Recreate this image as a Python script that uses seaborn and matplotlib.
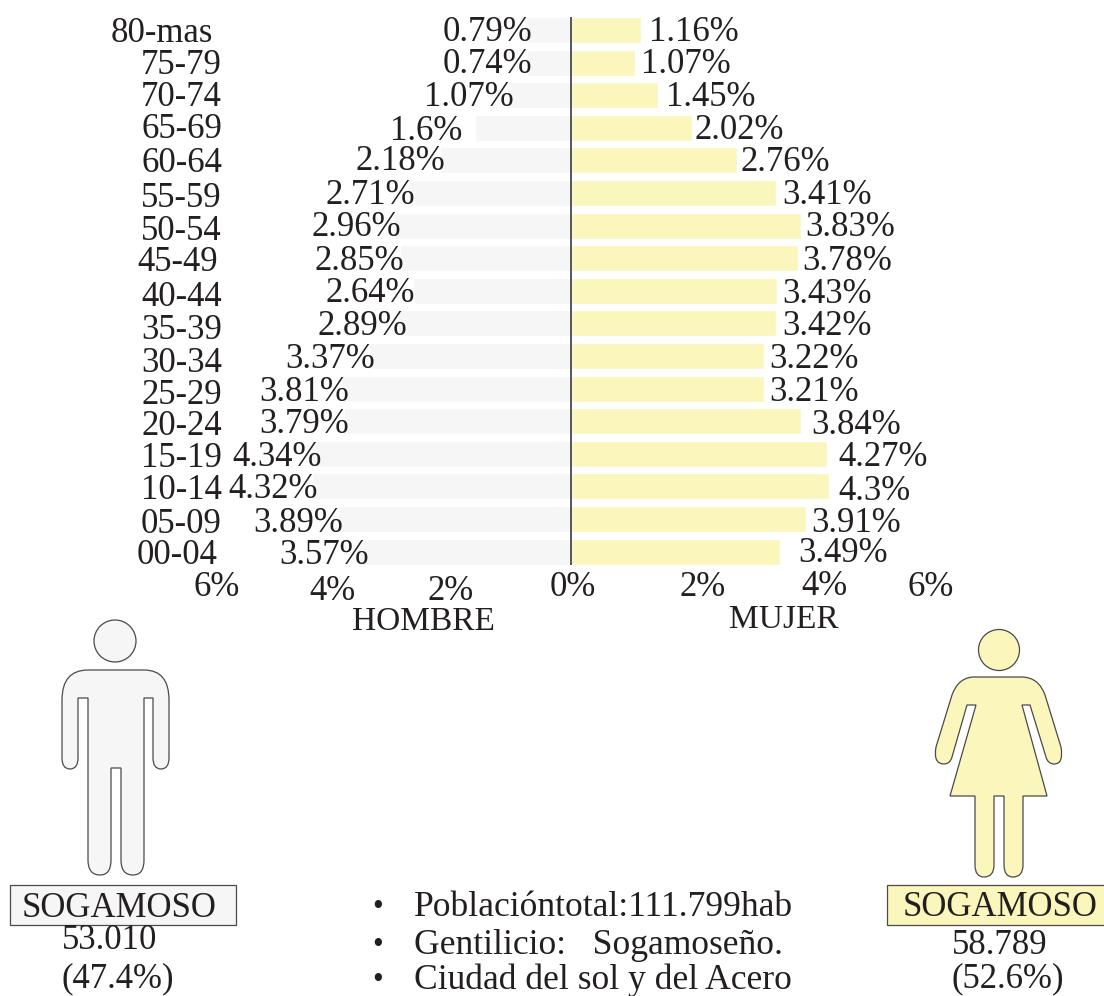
import matplotlib
matplotlib.use('Agg')
import matplotlib.pyplot as plt
from matplotlib.patches import Circle, PathPatch, Rectangle
from matplotlib.path import Path
import pandas as pd
import seaborn as sns

ages = ['80-mas', '75-79', '70-74', '65-69', '60-64', '55-59', '50-54', '45-49', '40-44',
        '35-39', '30-34', '25-29', '20-24', '15-19', '10-14', '05-09', '00-04']
hombre = [0.79, 0.74, 1.07, 1.6, 2.18, 2.71, 2.96, 2.85, 2.64, 2.89, 3.37, 3.81, 3.79, 4.34, 4.32, 3.89, 3.57]
mujer = [1.16, 1.07, 1.45, 2.02, 2.76, 3.41, 3.83, 3.78, 3.43, 3.42, 3.22, 3.21, 3.84, 4.27, 4.3, 3.91, 3.49]

# label positions in image pixels, they were placed by hand in the original
age_right = [213, 222, 222, 222, 222, 222, 222, 218, 222, 222, 222, 222, 222, 222, 222, 222, 218]
age_y = [30, 62, 94, 126, 160, 195, 228, 259, 294, 327, 360, 392, 423, 455, 487, 521, 552]
hombre_right = [532, 532, 514, 462, 445, 415, 401, 404, 415, 407, 375, 349, 349, 322, 318, 343, 369]
hombre_y = [29, 61, 94, 128, 158, 192, 224, 258, 290, 323, 356, 389, 421, 454, 486, 520, 552]
mujer_left = [649, 641, 666, 695, 741, 782, 805, 802, 782, 782, 769, 769, 811, 838, 838, 811, 798]
mujer_y = [29, 61, 94, 127, 159, 192, 224, 258, 291, 323, 356, 389, 422, 454, 488, 520, 550]

xtick_labels = ['6%', '4%', '2%', '0%', '2%', '4%', '6%']
xtick_x = [217, 333, 451, 573, 703, 824, 931]
xtick_y = [586, 590, 590, 586, 586, 585, 586]

bullets = ['Poblacióntotal:111.799hab', 'Gentilicio:   Sogamoseño.', 'Ciudad del sol y del Acero']
bullet_y = [904, 942, 977]

GRIS = '#f6f6f6'
AMARILLO = '#fbf6bb'
TINTA = '#231f20'
W, H = 1104, 996
X0 = 571      # pixel of 0%
PX_PCT = 60   # pixels per 1%
Y0 = 30       # pixel of first row
PX_ROW = 32.6
DY = 3        # matplotlib centres text a bit higher than the reference sits


def man_path():
    M, L, C = Path.MOVETO, Path.LINETO, Path.CURVE3
    pts = [((88, 670), M), ((62, 670), C), ((62, 700), C), ((62, 758), L),
           ((62, 769), C), ((70, 769), C), ((78, 769), C), ((78, 758), C),
           ((78, 698), L), ((88, 698), L), ((88, 860), L), ((88, 875), C), ((100, 875), C),
           ((111, 875), C), ((111, 860), C), ((111, 768), L), ((121, 768), L), ((121, 860), L),
           ((121, 875), C), ((133, 875), C), ((144, 875), C), ((144, 860), C), ((144, 698), L),
           ((153, 698), L), ((153, 758), L), ((153, 769), C), ((161, 769), C), ((169, 769), C),
           ((169, 758), C), ((169, 700), L), ((169, 670), C), ((144, 670), C), ((88, 670), L)]
    return Path([p[0] for p in pts], [p[1] for p in pts])


def woman_path():
    M, L, C = Path.MOVETO, Path.LINETO, Path.CURVE3
    pts = [((973, 677), M), ((958, 678), C), ((952, 695), C), ((936, 747), L),
           ((933, 764), C), ((944, 764), C), ((950, 764), C), ((952, 757), C),
           ((967, 705), L), ((976, 705), L), ((950, 796), L), ((975, 796), L),
           ((975, 865), L), ((975, 877), C), ((984, 877), C), ((994, 877), C), ((994, 865), C),
           ((994, 796), L), ((1004, 796), L), ((1004, 865), L), ((1004, 877), C), ((1013, 877), C),
           ((1023, 877), C), ((1023, 865), C), ((1023, 796), L), ((1047, 796), L), ((1022, 705), L),
           ((1030, 705), L), ((1046, 757), L), ((1048, 764), C), ((1054, 764), C), ((1064, 764), C),
           ((1061, 747), C), ((1045, 695), L), ((1039, 678), C), ((1023, 677), C), ((973, 677), L)]
    return Path([p[0] for p in pts], [p[1] for p in pts])


def draw_bars(fig):
    ax = fig.add_axes([0, 0, 1, 1])
    df_h = pd.DataFrame({'edad': ages, 'pct': [-v for v in hombre]})
    df_m = pd.DataFrame({'edad': ages, 'pct': mujer})
    sns.barplot(data=df_h, x='pct', y='edad', order=ages, orient='h', color=GRIS, saturation=1, width=0.8, ax=ax)
    sns.barplot(data=df_m, x='pct', y='edad', order=ages, orient='h', color=AMARILLO, saturation=1, width=0.8, ax=ax)
    ax.vlines(0, -0.4, 16.42, color='#3a3a3a', lw=1.2)
    ax.set_xlim(-X0 / PX_PCT, (W - X0) / PX_PCT)
    ax.set_ylim((H - Y0) / PX_ROW, -Y0 / PX_ROW)
    ax.axis('off')


def draw_overlay(fig):
    ax = fig.add_axes([0, 0, 1, 1])
    ax.set_xlim(0, W)
    ax.set_ylim(H, 0)
    ax.axis('off')
    txt = dict(color=TINTA, fontsize=25, va='center')
    txt_small = dict(color=TINTA, fontsize=24, va='center')

    for a, x, y in zip(ages, age_right, age_y):
        ax.text(x, y + DY, a, ha='right', **txt)
    for v, x, y in zip(hombre, hombre_right, hombre_y):
        ax.text(x, y + DY, f'{v}%', ha='right', **txt)
    for v, x, y in zip(mujer, mujer_left, mujer_y):
        ax.text(x, y + DY, f'{v}%', ha='left', **txt)
    for t, x, y in zip(xtick_labels, xtick_x, xtick_y):
        ax.text(x, y + DY - 2, t, ha='center', **txt)
    ax.text(423, 622, 'HOMBRE', ha='center', **txt_small)
    ax.text(784, 620, 'MUJER', ha='center', **txt_small)

    # icons
    edge = '#4a4a4a'
    ax.add_patch(Circle((115, 641), 21, fc=GRIS, ec=edge, lw=0.9))
    ax.add_patch(PathPatch(man_path(), fc=GRIS, ec=edge, lw=0.9))
    ax.add_patch(Circle((999, 650), 20.5, fc=AMARILLO, ec=edge, lw=0.9))
    ax.add_patch(PathPatch(woman_path(), fc=AMARILLO, ec=edge, lw=0.9))

    # name boxes
    ax.add_patch(Rectangle((9.5, 884.5), 226, 40, fc=GRIS, ec=edge, lw=0.9))
    ax.add_patch(Rectangle((886.5, 884.5), 218, 40, fc=AMARILLO, ec=edge, lw=0.9))
    ax.text(119, 905 + DY, 'SOGAMOSO', ha='center', **txt)
    ax.text(110, 940, '53.010', ha='center', **txt)
    ax.text(118, 979, '(47.4%)', ha='center', **txt)
    ax.text(1000, 904 + DY, 'SOGAMOSO', ha='center', **txt)
    ax.text(1000, 945, '58.789', ha='center', **txt)
    ax.text(1008, 979, '(52.6%)', ha='center', **txt)

    for b, y in zip(bullets, bullet_y):
        ax.text(378, y + DY, '•', ha='center', color=TINTA, fontsize=22, va='center')
        ax.text(414, y + DY, b, ha='left', color=TINTA, fontsize=25.6, va='center')


def main():
    sns.set_theme(style='white')
    plt.rcParams['font.family'] = ['Liberation Serif', 'DejaVu Serif']
    fig = plt.figure(figsize=(W / 100, H / 100), dpi=100)
    draw_bars(fig)
    draw_overlay(fig)
    plt.savefig('out.png', dpi=100)


if __name__ == '__main__':
    main()
